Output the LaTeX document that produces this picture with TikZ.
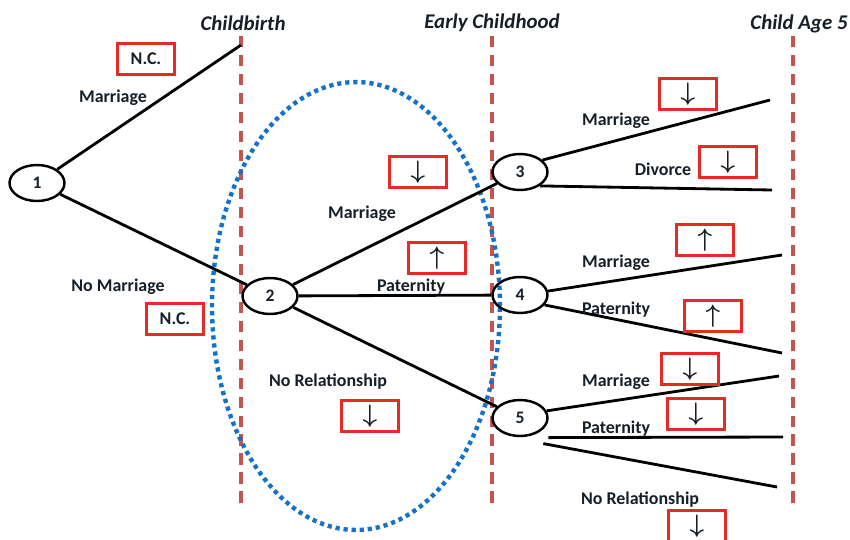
\documentclass[tikz,border=0pt]{standalone}
\usepackage{fontspec}
\setmainfont{Carlito}
\usepackage{amsmath,amssymb}
\usepackage{xcolor}
\usepackage{tikz}
\usetikzlibrary{positioning}
\usetikzlibrary{shapes, arrows, shapes.geometric}
\definecolor{boxred}{RGB}{232,42,38}
\definecolor{stagered}{RGB}{196,84,80}
\definecolor{dotblue}{RGB}{20,115,200}
\definecolor{inkdark}{RGB}{22,30,40}
\newcommand{\dn}{\Large$\boldsymbol{\downarrow}$}
\newcommand{\up}{\Large$\boldsymbol{\uparrow}$}

\begin{document}
\begin{tikzpicture}[
    x=0.02cm, y=-0.02cm,% one unit = one pixel of the sketch
    every node/.style = {text=inkdark},
    state/.style = {draw=black, ellipse, line width=1.4pt, minimum width=1.1cm, minimum height=0.72cm, inner sep=0pt, font=\bfseries},% decision nodes
    lab/.style = {font=\bfseries\fontsize{10.2}{12}\selectfont},% branch labels
    stage/.style = {font=\bfseries\itshape\fontsize{11.9}{14}\selectfont},% time headers
    effbox/.style = {draw=boxred, line width=1.6pt, minimum width=1.15cm, minimum height=0.62cm, inner sep=0pt, font=\bfseries\fontsize{10.2}{12}\selectfont},% effect boxes
    branch/.style = {line width=1.6pt},% tree branches
    divider/.style = {draw=stagered, line width=2.2pt, dash pattern=on 6.5pt off 4.3pt}% stage lines
    ]
    \useasboundingbox (0,0) rectangle (850,539);
    % stages
    \node (cbirth) [stage] at (243,23) {Childbirth};
    \node (early) [stage] at (492,23) {Early Childhood};
    \node (age5) [stage] at (799,24) {Child Age 5};
    \coordinate (cbtop) at (241,36);  \coordinate (cbbot) at (241,507);
    \coordinate (ectop) at (492,36);  \coordinate (ecbot) at (492,507);
    \coordinate (a5top) at (793,36);  \coordinate (a5bot) at (793,503);
    \draw[divider] (cbtop) -- (cbbot);
    \draw[divider] (ectop) -- (ecbot);
    \draw[divider] (a5top) -- (a5bot);
    % early childhood window
    \node (window) [draw=dotblue, line width=2.5pt, dash pattern=on 2.4pt off 2.2pt, ellipse, minimum width=5.76cm, minimum height=8.96cm] at (356,306) {};
    % states
    \node (n1) [state] at (37,183) {1};
    \node (n2) [state] at (270,296) {2};
    \node (n3) [state] at (520,172) {3};
    \node (n4) [state] at (520,295) {4};
    \node (n5) [state] at (520,418) {5};
    % branch ends
    \coordinate (e1) at (241,45);
    \coordinate (e3a) at (770,100);
    \coordinate (e3b) at (772,190);
    \coordinate (e4a) at (782,255);
    \coordinate (e4b) at (782,353);
    \coordinate (e5a) at (779,376);
    \coordinate (e5b) at (783,437);
    \coordinate (e5c) at (777,487);
    \draw[branch] (n1) -- (e1);
    \draw[branch] (n1) -- (n2);
    \draw[branch] (n2) -- (n3);
    \draw[branch] (n2) -- (n4);
    \draw[branch] (n2) -- (n5);
    \draw[branch] (n3.28) -- (e3a);
    \draw[branch] (n3.-35) -- (e3b);
    \draw[branch] (n4.8) -- (e4a);
    \draw[branch] (n4.-22) -- (e4b);
    \draw[branch] (n5.15) -- (e5a);
    \draw[branch] ([shift={(8,6)}]n5.south east) -- (e5b);
    \draw[branch] ([shift={(3,12)}]n5.south east) -- (e5c);
    % labels
    \node (l1a) [lab] at (113,98) {Marriage};
    \node (l1b) [lab] at (118,287) {No Marriage};
    \node (l2a) [lab] at (362,214) {Marriage};
    \node (l2b) [lab] at (411,287) {Paternity};
    \node (l2c) [lab] at (328,382) {No Relationship};
    \node (l3a) [lab] at (616,121) {Marriage};
    \node (l3b) [lab] at (663,169) {Divorce};
    \node (l4a) [lab] at (616,263) {Marriage};
    \node (l4b) [lab] at (616,310) {Paternity};
    \node (l5a) [lab] at (616,382) {Marriage};
    \node (l5b) [lab] at (616,429) {Paternity};
    \node (l5c) [lab] at (640,500) {No Relationship};
    % effects
    \node (b1a) [effbox] at (146,59) {N.C.};
    \node (b1b) [effbox] at (175,319) {N.C.};
    \node (b2a) [effbox] at (418,172) {\dn};
    \node (b2b) [effbox] at (437,258) {\up};
    \node (b2c) [effbox] at (370,416) {\dn};
    \node (b3a) [effbox] at (688,94) {\dn};
    \node (b3b) [effbox] at (728,162) {\dn};
    \node (b4a) [effbox] at (705,240) {\up};
    \node (b4b) [effbox] at (713,316) {\up};
    \node (b5a) [effbox] at (690,369) {\dn};
    \node (b5b) [effbox] at (696,414) {\dn};
    \node (b5c) [effbox] at (697,526) {\dn};
\end{tikzpicture}
\end{document}
